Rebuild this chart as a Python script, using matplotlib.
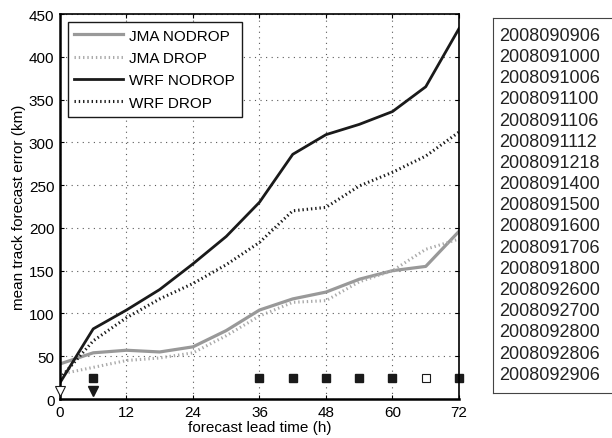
import matplotlib
matplotlib.use("Agg")
import matplotlib.pyplot as plt

plt.rcParams["font.family"] = ["Liberation Sans", "DejaVu Sans"]

lead = [0, 6, 12, 18, 24, 30, 36, 42, 48, 54, 60, 66, 72]
jma_nodrop = [41, 54, 57, 55, 61, 80, 104, 117, 125, 140, 150, 155, 196]
jma_drop = [29, 37, 45, 48, 54, 74, 97, 113, 115, 137, 150, 175, 187]
wrf_nodrop = [19, 82, 104, 128, 158, 190, 230, 286, 309, 321, 336, 365, 433]
wrf_drop = [24, 68, 95, 117, 135, 157, 183, 220, 224, 249, 265, 284, 312]

# markers along the bottom
sq_filled_x = [6, 36, 42, 48, 54, 60, 72]
sq_open_x = [66]
sq_y = 25
tri_filled_x = [6]
tri_open_x = [0]
tri_y = 9

dates = [
    "2008090906", "2008091000", "2008091006", "2008091100", "2008091106",
    "2008091112", "2008091218", "2008091400", "2008091500", "2008091600",
    "2008091706", "2008091800", "2008092600", "2008092700", "2008092800",
    "2008092806", "2008092906",
]

fig = plt.figure(figsize=(6.12, 4.39), dpi=100)
ax = fig.add_axes([0.098, 0.0888, 0.652, 0.877])

ax.plot(lead, jma_nodrop, color="#999999", linewidth=2.3, label="JMA NODROP")
ax.plot(lead, jma_drop, color="#aaaaaa", linewidth=2.2,
        linestyle=(0, (0.45, 0.95)), label="JMA DROP")
ax.plot(lead, wrf_nodrop, color="#1a1a1a", linewidth=2.0, label="WRF NODROP")
ax.plot(lead, wrf_drop, color="#1a1a1a", linewidth=2.2,
        linestyle=(0, (0.45, 0.95)), label="WRF DROP")

ax.plot(sq_filled_x, [sq_y] * len(sq_filled_x), linestyle="none", marker="s",
        markersize=6, color="#1a1a1a", clip_on=False)
ax.plot(sq_open_x, [sq_y] * len(sq_open_x), linestyle="none", marker="s",
        markersize=6, markerfacecolor="white", markeredgecolor="#1a1a1a",
        markeredgewidth=0.8, clip_on=False)
ax.plot(tri_filled_x, [tri_y] * len(tri_filled_x), linestyle="none", marker="v",
        markersize=7.5, color="#1a1a1a", clip_on=False)
ax.plot(tri_open_x, [tri_y] * len(tri_open_x), linestyle="none", marker="v",
        markersize=7.5, markerfacecolor="white", markeredgecolor="#1a1a1a",
        markeredgewidth=0.8, clip_on=False, zorder=5)

ax.set_xlim(0, 72)
ax.set_ylim(0, 450)
ax.set_xticks(range(0, 73, 12))
ax.set_yticks(range(0, 451, 50))
ax.tick_params(direction="in", top=True, right=True, labelsize=11, length=3,
               width=0.8, pad=4)
ax.grid(True, color="0.35", linestyle=(0, (1, 4)), linewidth=0.8)
for side in ["left", "bottom"]:
    ax.spines[side].set_linewidth(1.8)
for side in ["top", "right"]:
    ax.spines[side].set_linewidth(1.2)

ax.set_xlabel("forecast lead time (h)", fontsize=11, labelpad=1)
ax.set_ylabel("mean track forecast error (km)", fontsize=11, labelpad=2)

leg = ax.legend(loc="upper left", fontsize=11, handlelength=3.2,
                borderaxespad=0.5, labelspacing=0.55, fancybox=False,
                framealpha=1, borderpad=0.45, handletextpad=0.4)
leg.get_frame().set_edgecolor("#1a1a1a")
leg.get_frame().set_linewidth(1.0)

# box with the list of dates
box = fig.add_axes([0.8056, 0.1025, 0.21, 0.8542])
box.set_xticks([])
box.set_yticks([])
for side in box.spines.values():
    side.set_linewidth(0.8)
    side.set_color("#444444")
for i, d in enumerate(dates):
    box.text(0.05, 0.954 - i * 0.0565, d, transform=box.transAxes,
             fontsize=13, va="center", ha="left", color="#222222")

fig.savefig("out.png", dpi=100)
